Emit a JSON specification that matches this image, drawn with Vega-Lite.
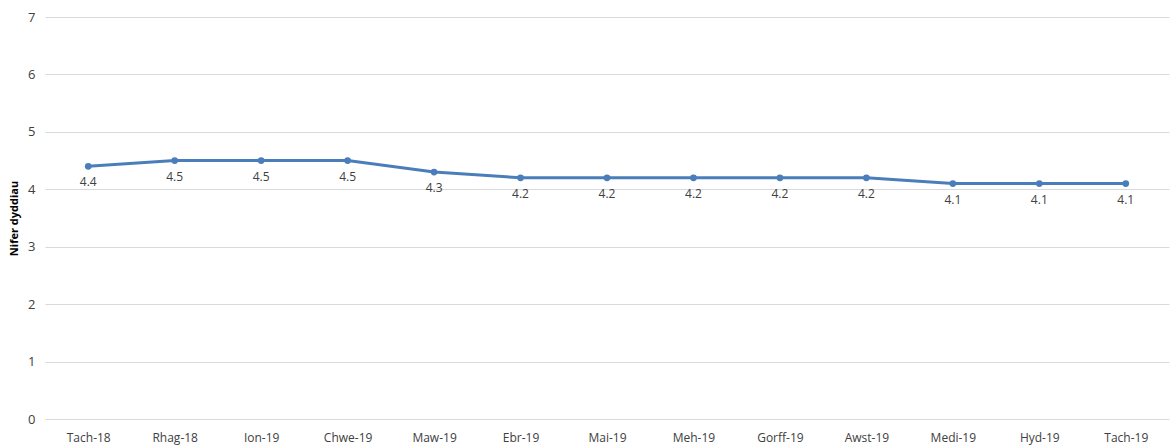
{
  "$schema": "https://vega.github.io/schema/vega-lite/v6.json",
  "width": 1124,
  "height": 402,
  "autosize": {"type": "none"},
  "padding": {"left": 45, "top": 17, "right": 1, "bottom": 27},
  "background": "white",
  "config": {
    "view": {"stroke": null},
    "font": "Open Sans",
    "axis": {"labelColor": "#404040", "titleColor": "#000000", "labelFontSize": 12, "gridColor": "#d9d9d9", "domain": false, "ticks": false}
  },
  "data": {
    "values": [
      {"mis": "Tach-18", "dyddiau": 4.4},
      {"mis": "Rhag-18", "dyddiau": 4.5},
      {"mis": "Ion-19", "dyddiau": 4.5},
      {"mis": "Chwe-19", "dyddiau": 4.5},
      {"mis": "Maw-19", "dyddiau": 4.3},
      {"mis": "Ebr-19", "dyddiau": 4.2},
      {"mis": "Mai-19", "dyddiau": 4.2},
      {"mis": "Meh-19", "dyddiau": 4.2},
      {"mis": "Gorff-19", "dyddiau": 4.2},
      {"mis": "Awst-19", "dyddiau": 4.2},
      {"mis": "Medi-19", "dyddiau": 4.1},
      {"mis": "Hyd-19", "dyddiau": 4.1},
      {"mis": "Tach-19", "dyddiau": 4.1}
    ]
  },
  "encoding": {
    "x": {"field": "mis", "type": "ordinal", "sort": null, "title": null,
      "scale": {"paddingInner": 0, "paddingOuter": 0.5},
      "axis": {"labelAngle": 0, "grid": false, "labelPadding": 13}},
    "y": {"field": "dyddiau", "type": "quantitative", "title": "Nifer dyddiau",
      "scale": {"domain": [0, 7]},
      "axis": {"tickCount": 7, "labelPadding": 10, "labelFontSize": 13, "titleFontSize": 11, "titleFontWeight": "bold", "titlePadding": 8}}
  },
  "layer": [
    {"mark": {"type": "line", "color": "#4a7ebb", "strokeWidth": 3, "point": {"filled": true, "size": 45, "color": "#4a7ebb"}}},
    {"mark": {"type": "text", "dy": 16, "fontSize": 12, "color": "#404040"},
     "encoding": {"text": {"field": "dyddiau", "type": "quantitative", "format": ".1f"}}}
  ]
}
